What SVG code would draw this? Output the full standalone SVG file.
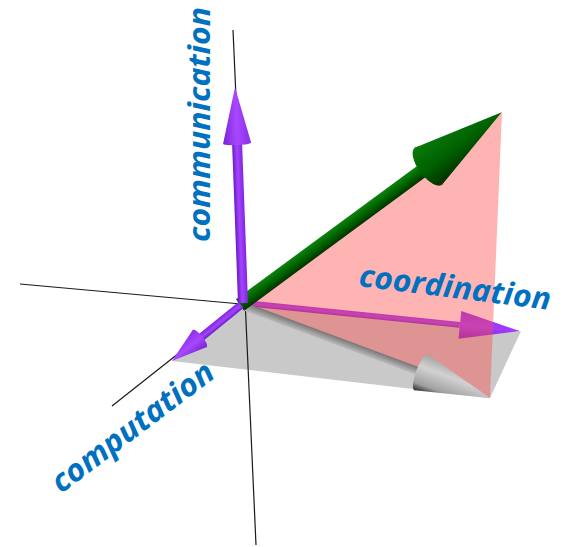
<svg xmlns="http://www.w3.org/2000/svg" width="575" height="547" viewBox="0 0 575 547">
<style>
.axis{stroke:#1a1a1a;stroke-width:1.2;fill:none}
.lbl{font-family:"Open Sans","Noto Sans",sans-serif;font-weight:bold;font-style:italic;font-size:31px;fill:#0070c0}
</style>
<defs>
<linearGradient id="gPurple" x1="0" y1="0" x2="0" y2="1">
<stop offset="0" stop-color="#6a1cc0"/>
<stop offset="0.45" stop-color="#a443ff"/>
<stop offset="1" stop-color="#8126dc"/>
</linearGradient>
<linearGradient id="gPurpleCone" x1="0" y1="0" x2="0" y2="1">
<stop offset="0" stop-color="#7a22d6"/>
<stop offset="0.5" stop-color="#a848ff"/>
<stop offset="1" stop-color="#8a2ee8"/>
</linearGradient>
<linearGradient id="gViolet" x1="0" y1="0" x2="0" y2="1">
<stop offset="0" stop-color="#8f2cf0"/>
<stop offset="0.5" stop-color="#a23dff"/>
<stop offset="1" stop-color="#7a22d0"/>
</linearGradient>
<linearGradient id="gGreen" x1="0" y1="0" x2="0" y2="1">
<stop offset="0" stop-color="#0d820d"/>
<stop offset="0.5" stop-color="#006400"/>
<stop offset="1" stop-color="#003300"/>
</linearGradient>
<linearGradient id="gGreenCone" x1="0" y1="0" x2="0" y2="1">
<stop offset="0" stop-color="#0a7a0a"/>
<stop offset="0.55" stop-color="#006000"/>
<stop offset="0.95" stop-color="#003500"/>
<stop offset="1" stop-color="#5a2a10"/>
</linearGradient>
<linearGradient id="gGray" x1="0" y1="0" x2="0" y2="1">
<stop offset="0" stop-color="#767676"/>
<stop offset="0.5" stop-color="#9a9a9a"/>
<stop offset="1" stop-color="#bdbdbd"/>
</linearGradient>
<linearGradient id="gGrayCone" x1="0" y1="0" x2="0" y2="1">
<stop offset="0" stop-color="#a4a4a4"/>
<stop offset="0.35" stop-color="#d2d2d2"/>
<stop offset="0.8" stop-color="#a0a0a0"/>
<stop offset="1" stop-color="#2e2e2e"/>
</linearGradient>
</defs>

<g id="planes-back">
<polygon id="gray-plane" points="241,305 172,361 490,398 521,331" fill="#c9c9c9"/>
</g>

<g id="connectors">
<line class="axis" x1="233" y1="30" x2="256" y2="545"/>
<line class="axis" x1="20" y1="284" x2="241" y2="304"/>
<line class="axis" x1="241" y1="304" x2="112" y2="406"/>
</g>

<g id="coordination-arrow" transform="translate(245,303) rotate(5.81)">
<rect x="0" y="-3" width="216" height="6" fill="url(#gViolet)"/>
<polygon points="216,-14 276,0 216,14" fill="url(#gViolet)"/>
</g>

<g id="pink-plane">
<polygon points="502,112 241,304 490,398" fill="#ff4d4d" fill-opacity="0.42"/>
</g>

<g id="gray-arrow" transform="translate(243,306) rotate(20.43)">
<rect x="0" y="-4" width="190" height="8" fill="url(#gGray)"/>
<polygon points="190,-19 264,0 190,19" fill="url(#gGrayCone)"/>
<ellipse cx="190" cy="0" rx="5" ry="19" fill="url(#gGrayCone)"/>
</g>

<g id="green-arrow" transform="translate(240,305) rotate(-36.37)">
<rect x="0" y="-7" width="236" height="14" fill="url(#gGreen)"/>
<polygon points="234,-23 325,0 234,23" fill="url(#gGreenCone)"/>
<ellipse cx="234" cy="0" rx="10" ry="23" fill="url(#gGreenCone)"/>
</g>

<g id="communication-arrow" transform="translate(243,303) rotate(-92.12)">
<rect x="0" y="-5" width="160" height="10" fill="url(#gPurple)"/>
<polygon points="160,-14 216,0 160,14" fill="url(#gPurpleCone)"/>
<ellipse cx="160" cy="0" rx="2" ry="14" fill="url(#gPurpleCone)"/>
</g>

<g id="computation-arrow" transform="translate(241,305) rotate(140.94)">
<rect x="0" y="-4" width="53" height="8" fill="url(#gPurple)"/>
<polygon points="53,-11 89,0 53,11" fill="url(#gPurpleCone)"/>
<ellipse cx="53" cy="0" rx="3" ry="11" fill="url(#gPurpleCone)"/>
</g>

<g id="labels">
<text class="lbl" transform="translate(210,242) rotate(-90)" textLength="235" lengthAdjust="spacingAndGlyphs">communication</text>
<text class="lbl" transform="translate(358,286) rotate(7.1)" textLength="193" lengthAdjust="spacingAndGlyphs">coordination</text>
<text class="lbl" transform="translate(61,494) rotate(-37)" textLength="195" lengthAdjust="spacingAndGlyphs">computation</text>
</g>
</svg>
